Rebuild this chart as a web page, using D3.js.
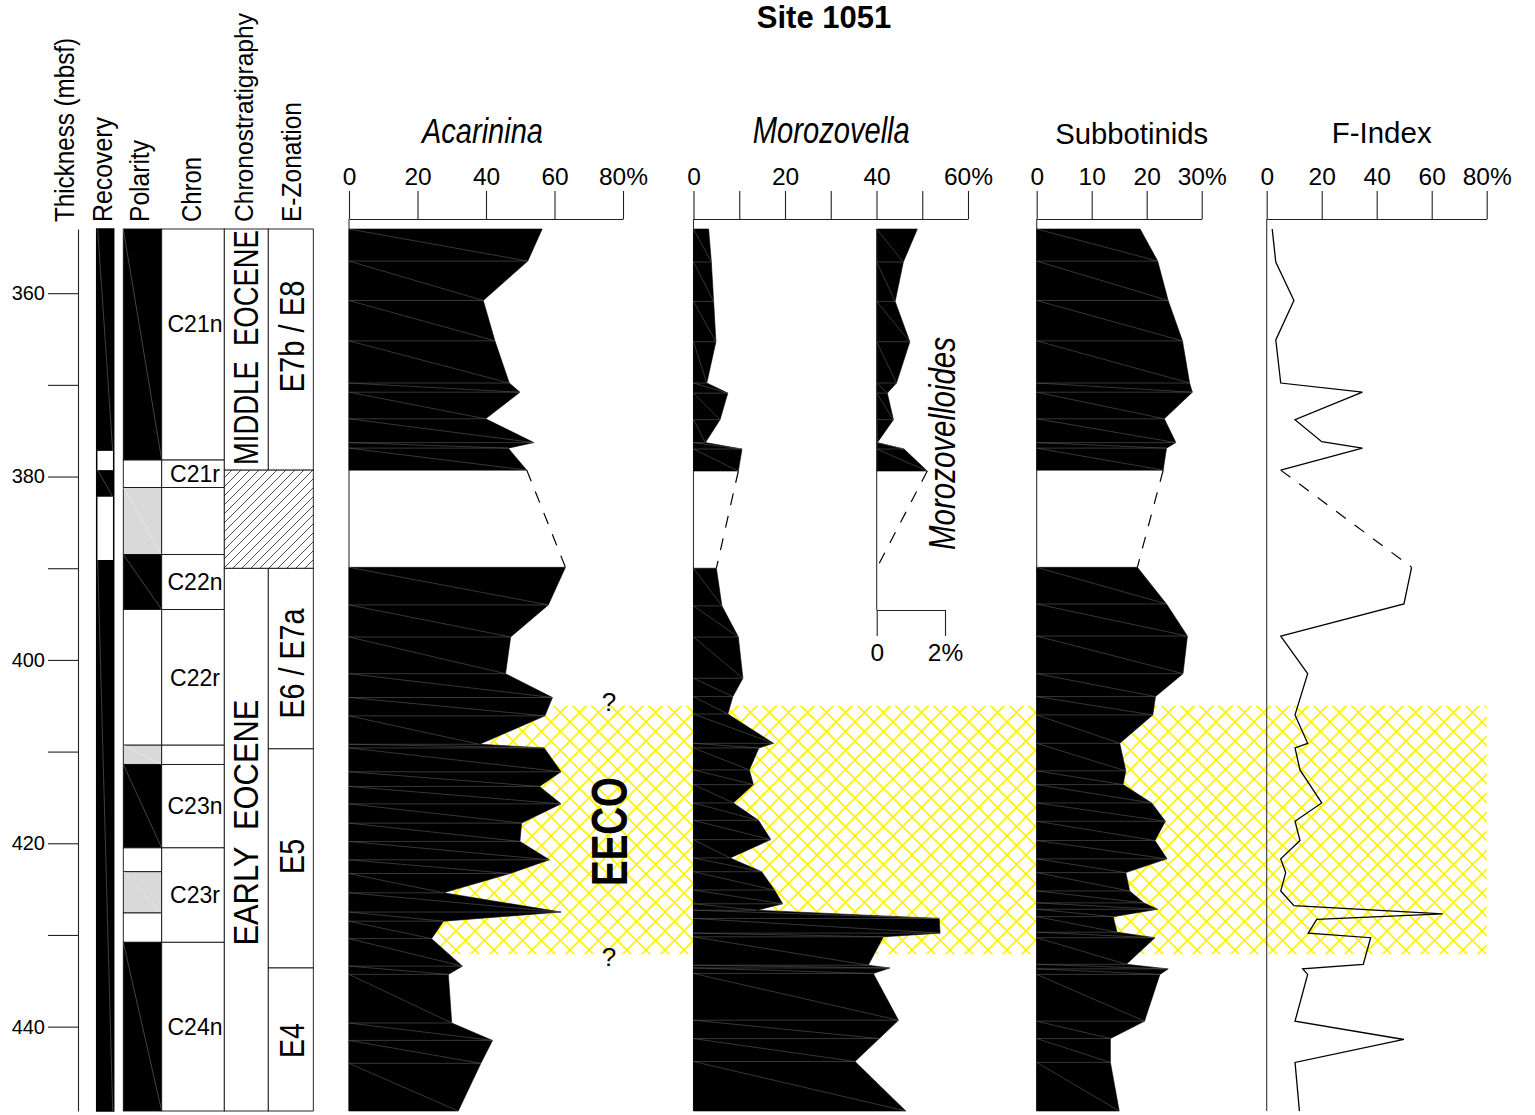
<!DOCTYPE html>
<html>
<head>
<meta charset="utf-8">
<script src="https://cdn.jsdelivr.net/npm/d3@7"></script>
<style>
  html, body { margin: 0; padding: 0; background: #fff; }
  svg { display: block; }
</style>
</head>
<body>
<svg id="chart" width="1535" height="1115"></svg>
<script>
// ---------------- data (depths in mbsf, abundances in %) ----------------
const depthTop = 353.0, depthBase = 449.2;
const depthTicks = [360, 370, 380, 390, 400, 410, 420, 430, 440];
const coreGap = [379.3, 389.9];          // unsampled interval between the two cored blocks
const eecoInterval = [405.0, 432.1];     // Early Eocene Climatic Optimum

const recoveredTop  = [353.0, 379.3, 389.1];
const recoveredBase = [377.2, 382.2, 449.2];

const polarityTop   = [353.0, 378.2, 381.2, 388.5, 394.5, 409.3, 411.4, 420.5, 423.1, 427.6, 430.8];
const polarityBase  = [378.2, 381.2, 388.5, 394.5, 409.3, 411.4, 420.5, 423.1, 427.6, 430.8, 449.2];
const polarityState = ["N", "R", "?", "N", "R", "?", "N", "R", "?", "R", "N"];

const chronNames = ["C21n", "C21r", "", "C22n", "C22r", "", "C23n", "C23r", "C24n"];
const chronTop   = [353.0, 378.2, 381.2, 388.5, 394.5, 409.3, 411.4, 420.5, 430.8];
const chronBase  = [378.2, 381.2, 388.5, 394.5, 409.3, 411.4, 420.5, 430.8, 449.2];

const epochNames = ["MIDDLE  EOCENE", "EARLY  EOCENE"];
const epochTop   = [353.0, 390.0];
const epochBase  = [379.3, 449.2];

const zoneNames = ["E7b / E8", "E6 / E7a", "E5", "E4"];
const zoneTop   = [353.0, 390.0, 409.7, 433.6];
const zoneBase  = [379.3, 409.7, 433.6, 449.2];

const undefinedInterval = [379.3, 390.0];

const acarininaDepth = [353.0, 356.5, 360.8, 365.2, 369.8, 370.8, 373.7, 376.3, 376.9, 379.3,
  389.9, 394.0, 397.5, 401.5, 404.1, 406.1, 409.2, 409.6, 412.2, 413.8, 415.7, 417.8, 419.8,
  421.8, 423.3, 425.4, 427.5, 428.5, 430.4, 433.4, 434.3, 439.6, 441.5, 444.0, 449.2];
const acarininaPct = [56.4, 52.2, 39.2, 42.6, 46.8, 49.9, 39.9, 54.0, 46.5, 51.9,
  63.2, 58.2, 47.2, 45.7, 59.4, 57.2, 38.1, 57.0, 61.9, 55.6, 61.9, 50.4, 49.9,
  58.5, 47.0, 27.6, 61.9, 27.6, 24.1, 33.1, 29.0, 30.0, 41.9, 38.5, 31.9];

const morozovellaDepth = [353.0, 356.6, 360.9, 365.3, 369.8, 370.9, 373.8, 376.3, 377.0, 379.4,
  390.0, 394.1, 397.5, 402.0, 404.0, 405.9, 409.1, 409.6, 412.0, 413.6, 415.6, 417.5, 419.6,
  421.6, 423.1, 425.1, 426.6, 427.3, 428.2, 429.8, 430.2, 433.3, 433.6, 434.2, 439.3, 441.3,
  443.8, 449.2];
const morozovellaPct = [3.3, 3.9, 4.4, 4.9, 2.9, 7.5, 5.8, 2.6, 10.6, 9.8,
  5.0, 6.2, 9.8, 10.8, 8.6, 7.5, 17.5, 14.3, 12.2, 13.1, 8.7, 14.2, 16.9,
  8.0, 14.9, 17.7, 19.5, 13.8, 53.7, 53.9, 41.5, 38.2, 42.9, 39.3, 44.8, 40.6,
  35.3, 46.4];

const morozovelloidesDepth = [353.0, 356.6, 360.9, 365.3, 369.8, 370.9, 373.8, 376.3, 377.0, 379.4, 390.0];
const morozovelloidesPct   = [1.19, 0.78, 0.54, 0.97, 0.58, 0.31, 0.49, 0.02, 0.80, 1.48, 0];

const subbotinidsDepth = [353.0, 356.5, 360.8, 365.2, 369.8, 370.8, 373.7, 376.3, 376.9, 379.3,
  389.9, 393.9, 397.4, 401.5, 404.0, 406.0, 409.1, 412.1, 413.6, 415.6, 417.6, 419.7, 421.7,
  423.2, 425.2, 426.5, 427.2, 428.0, 429.7, 430.3, 433.2, 433.7, 434.3, 439.4, 441.3, 443.9, 449.2];
const subbotinidsPct = [18.8, 22.0, 23.9, 26.5, 27.8, 28.3, 23.2, 25.3, 23.6, 23.0,
  18.3, 23.6, 27.4, 26.6, 21.6, 21.1, 15.1, 16.2, 15.7, 20.9, 23.4, 21.5, 23.7,
  16.2, 16.9, 19.5, 22.0, 13.9, 14.6, 21.5, 16.3, 23.9, 22.4, 19.6, 13.4, 13.4, 15.0];

const fIndexDepth = [353.0, 356.6, 360.8, 365.1, 369.8, 370.8, 373.8, 376.2, 376.9, 379.3,
  389.9, 393.9, 397.4, 401.5, 406.0, 409.1, 409.6, 412.0, 415.6, 417.6, 419.7, 421.7, 423.2,
  425.2, 426.8, 427.7, 428.3, 429.8, 430.3, 433.2, 433.7, 434.3, 439.4, 441.4, 443.9, 449.2];
const fIndexPct = [2.0, 3.3, 9.9, 3.3, 5.1, 34.8, 10.3, 20.0, 34.8, 5.1,
  52.7, 49.9, 5.1, 14.9, 10.3, 14.9, 10.3, 12.1, 20.0, 10.3, 12.1, 5.1, 6.9,
  5.1, 9.9, 64.0, 18.2, 15.1, 37.8, 35.1, 13.1, 14.9, 10.3, 49.9, 10.3, 11.9];

const acarininaTicks = [0, 20, 40, 60, 80];
const morozovellaTicks = [0, 10, 20, 30, 40, 50, 60];
const morozovellaLabelled = [0, 20, 40, 60];
const morozovelloidesTicks = [0, 2];
const subbotinidsTicks = [0, 10, 20, 30];
const fIndexTicks = [0, 20, 40, 60, 80];

// ---------------- layout ----------------
const FONT = '"Liberation Sans", Arial, Helvetica, sans-serif';
const TICK_FONT = 24.5;
const svg = d3.select("#chart");
const y = d3.scaleLinear().domain([depthTop, depthBase]).range([229, 1111]);

const xAcarinina = d3.scaleLinear().domain([0, 80]).range([349, 623]);
const xMorozovella = d3.scaleLinear().domain([0, 60]).range([693.5, 968]);
const xMorozovelloides = d3.scaleLinear().domain([0, 2]).range([876.7, 945]);
const xSubbotinids = d3.scaleLinear().domain([0, 30]).range([1036.7, 1201.7]);
const xFIndex = d3.scaleLinear().domain([0, 80]).range([1266.7, 1486.7]);

const col = {
  recovery: [96.7, 113.7],
  polarity: [123.3, 161.7],
  chron: [161.7, 224.3],
  epoch: [224.3, 268.3],
  zone: [268.3, 313.3]
};

const pct = v => v + "%";
const lastTickPct = ticks => d => d === ticks[ticks.length - 1] ? pct(d) : String(d);

// ---------------- patterns ----------------
const defs = svg.append("defs");
const s = 19;
const eco = defs.append("pattern").attr("id", "eecoHatch")
  .attr("patternUnits", "userSpaceOnUse").attr("width", s).attr("height", s);
eco.append("path")
  .attr("d", `M-2,2L2,-2M0,${s}L${s},0M${s-2},${s+2}L${s+2},${s-2}` +
             `M-2,${s-2}L2,${s+2}M0,0L${s},${s}M${s-2},-2L${s+2},2`)
  .attr("stroke", "#fff200").attr("stroke-width", 1.6).attr("fill", "none");

const h = 9;
const gapHatch = defs.append("pattern").attr("id", "gapHatch")
  .attr("patternUnits", "userSpaceOnUse").attr("width", h).attr("height", h);
gapHatch.append("rect").attr("width", h).attr("height", h).attr("fill", "#fff");
gapHatch.append("path")
  .attr("d", `M-1,1L1,-1M0,${h}L${h},0M${h-1},${h+1}L${h+1},${h-1}`)
  .attr("stroke", "#222").attr("stroke-width", 0.8);

// ---------------- title ----------------
svg.append("text").attr("x", 824).attr("y", 28)
  .attr("text-anchor", "middle").attr("font-family", FONT)
  .attr("font-size", 31).attr("font-weight", "bold").text("Site 1051");

// ---------------- helpers ----------------
function rotText(txt, x, yc, size, len, anchor, extra) {
  const t = svg.append("text")
    .attr("transform", `translate(${x},${yc}) rotate(-90)`)
    .attr("text-anchor", anchor).attr("font-family", FONT)
    .attr("font-size", size)
    .attr("textLength", len).attr("lengthAdjust", "spacingAndGlyphs")
    .text(txt);
  if (extra) extra(t);
  return t;
}
function hText(txt, x, yb, size, len, extra) {
  const t = svg.append("text").attr("x", x).attr("y", yb)
    .attr("text-anchor", "middle").attr("font-family", FONT)
    .attr("font-size", size).text(txt);
  if (len) t.attr("textLength", len).attr("lengthAdjust", "spacingAndGlyphs");
  if (extra) extra(t);
  return t;
}

// ---------------- column headers ----------------
rotText("Thickness (mbsf)", 74, 222, 27, 184, "start");
rotText("Recovery", 112, 222, 27, 105, "start");
rotText("Polarity", 149, 222, 27, 82, "start");
rotText("Chron", 201, 222, 27, 65, "start");
rotText("Chronostratigraphy", 253, 222, 25, 209, "start");
rotText("E-Zonation", 301, 222, 27, 120, "start");

// ---------------- depth axis ----------------
const gDepth = svg.append("g").attr("transform", "translate(78,0)")
  .call(d3.axisLeft(y).tickValues(depthTicks).tickSize(30).tickSizeOuter(0)
    .tickPadding(3).tickFormat(d => d % 20 === 0 ? d : ""));
gDepth.select(".domain").attr("stroke", "#222").attr("stroke-width", 1.1);
gDepth.selectAll(".tick line").attr("stroke", "#222").attr("stroke-width", 1.1);
gDepth.selectAll("text").attr("font-family", FONT).attr("font-size", 20).attr("fill", "#000");

// ---------------- recovery ----------------
svg.append("rect").attr("x", col.recovery[0]).attr("y", y(depthTop))
  .attr("width", col.recovery[1] - col.recovery[0]).attr("height", y(depthBase) - y(depthTop))
  .attr("fill", "#fff").attr("stroke", "#000").attr("stroke-width", 1.5);
const recovered = recoveredTop.map((t, i) => ({ top: t, base: recoveredBase[i] }));
svg.append("g").selectAll("rect").data(recovered).join("rect")
  .attr("x", col.recovery[0]).attr("y", d => y(d.top))
  .attr("width", col.recovery[1] - col.recovery[0]).attr("height", d => y(d.base) - y(d.top))
  .attr("fill", "#000");
svg.append("g").selectAll("line").data(recovered).join("line")
  .attr("x1", col.recovery[0] + 1).attr("y1", d => y(d.top))
  .attr("x2", col.recovery[1] - 1).attr("y2", d => y(d.base))
  .attr("stroke", "#6a6a6a").attr("stroke-width", 0.6);

// ---------------- polarity ----------------
const polarityFill = { N: "#000", R: "#fff", "?": "#d9d9d9" };
const polarity = polarityTop.map((t, i) => ({ top: t, base: polarityBase[i], state: polarityState[i] }));
svg.append("g").selectAll("rect").data(polarity).join("rect")
  .attr("x", col.polarity[0]).attr("y", d => y(d.top))
  .attr("width", col.polarity[1] - col.polarity[0]).attr("height", d => y(d.base) - y(d.top))
  .attr("fill", d => polarityFill[d.state]).attr("stroke", "#111").attr("stroke-width", 0.9);
svg.append("g").selectAll("line").data(polarity.filter(d => d.state !== "R")).join("line")
  .attr("x1", col.polarity[0]).attr("y1", d => y(d.top))
  .attr("x2", col.polarity[1]).attr("y2", d => y(d.base))
  .attr("stroke", d => d.state === "N" ? "#707070" : "#eeeeee").attr("stroke-width", 0.6);

// ---------------- chrons ----------------
const chrons = chronNames.map((n, i) => ({ name: n, top: chronTop[i], base: chronBase[i] }));
svg.append("g").selectAll("rect").data(chrons).join("rect")
  .attr("x", col.chron[0]).attr("y", d => y(d.top))
  .attr("width", col.chron[1] - col.chron[0]).attr("height", d => y(d.base) - y(d.top))
  .attr("fill", "#fff").attr("stroke", "#111").attr("stroke-width", 0.9);
svg.append("g").selectAll("text").data(chrons.filter(d => d.name)).join("text")
  .attr("x", (col.chron[0] + col.chron[1]) / 2 + 2)
  .attr("y", d => (y(d.top) + y(d.base)) / 2 + (d.name === "C21n" ? -21 : 0))
  .attr("dy", "0.36em").attr("text-anchor", "middle")
  .attr("font-family", FONT).attr("font-size", 23).text(d => d.name);

// ---------------- epochs and zones ----------------
const epochs = epochNames.map((n, i) => ({ name: n, top: epochTop[i], base: epochBase[i] }));
svg.append("g").selectAll("rect").data(epochs).join("rect")
  .attr("x", col.epoch[0]).attr("y", d => y(d.top))
  .attr("width", col.epoch[1] - col.epoch[0]).attr("height", d => y(d.base) - y(d.top))
  .attr("fill", "#fff").attr("stroke", "#111").attr("stroke-width", 0.9);
const zones = zoneNames.map((n, i) => ({ name: n, top: zoneTop[i], base: zoneBase[i] }));
svg.append("g").selectAll("rect").data(zones).join("rect")
  .attr("x", col.zone[0]).attr("y", d => y(d.top))
  .attr("width", col.zone[1] - col.zone[0]).attr("height", d => y(d.base) - y(d.top))
  .attr("fill", "#fff").attr("stroke", "#111").attr("stroke-width", 0.9);
svg.append("rect").attr("x", col.epoch[0]).attr("y", y(undefinedInterval[0]))
  .attr("width", col.zone[1] - col.epoch[0])
  .attr("height", y(undefinedInterval[1]) - y(undefinedInterval[0]))
  .attr("fill", "url(#gapHatch)").attr("stroke", "#111").attr("stroke-width", 0.9);

const epochLen = { "MIDDLE  EOCENE": 235, "EARLY  EOCENE": 246 };
const epochShift = { "MIDDLE  EOCENE": -2, "EARLY  EOCENE": -17 };
epochs.forEach(d => {
  rotText(d.name, 258, (y(d.top) + y(d.base)) / 2 + epochShift[d.name], 35, epochLen[d.name], "middle",
    t => t.attr("xml:space", "preserve").style("white-space", "pre"));
});
const zoneLen = { "E7b / E8": 112, "E6 / E7a": 110, "E5": 35, "E4": 35 };
const zoneShift = { "E7b / E8": -13, "E6 / E7a": 5, "E5": -2, "E4": 1 };
zones.forEach(d => {
  rotText(d.name, 303.5, (y(d.top) + y(d.base)) / 2 + zoneShift[d.name], 35, zoneLen[d.name], "middle");
});

// ---------------- EECO band ----------------
svg.append("rect").attr("x", xAcarinina(0)).attr("y", y(eecoInterval[0]))
  .attr("width", xFIndex(80) - xAcarinina(0))
  .attr("height", y(eecoInterval[1]) - y(eecoInterval[0]))
  .attr("fill", "url(#eecoHatch)");

// ---------------- abundance panels ----------------
const gapMid = (coreGap[0] + coreGap[1]) / 2;
function toBlocks(depths, values) {
  const pts = depths.map((d, i) => ({ depth: d, value: values[i] }));
  return [pts.filter(p => p.depth < gapMid), pts.filter(p => p.depth > gapMid)];
}

function topAxis(x, ticks, fmt) {
  const g = svg.append("g").attr("transform", "translate(0,219)")
    .call(d3.axisTop(x).tickValues(ticks).tickSize(28).tickSizeOuter(0).tickPadding(6).tickFormat(fmt));
  g.select(".domain").attr("stroke", "#222").attr("stroke-width", 1.1);
  g.selectAll(".tick line").attr("stroke", "#222").attr("stroke-width", 1.1);
  g.selectAll("text").attr("font-family", FONT).attr("font-size", TICK_FONT).attr("fill", "#000");
  svg.append("line").attr("x1", x(0)).attr("x2", x(0)).attr("y1", 219).attr("y2", y(depthBase))
    .attr("stroke", "#333").attr("stroke-width", 1.1);
}

function filledSeries(x, depths, values) {
  const blocks = toBlocks(depths, values);
  const area = d3.area().x0(x(0)).x1(p => x(p.value)).y(p => y(p.depth));
  blocks.forEach(block => {
    if (block.length < 2) return;
    svg.append("path").datum(block).attr("d", area)
      .attr("fill", "#000").attr("stroke", "#000").attr("stroke-width", 0.6);
    const pairs = d3.pairs(block);
    const seams = svg.append("g").attr("stroke", "#5a5a5a").attr("stroke-width", 0.6);
    seams.selectAll("line.h").data(block.slice(1, -1)).join("line").attr("class", "h")
      .attr("x1", x(0)).attr("x2", p => x(p.value))
      .attr("y1", p => y(p.depth)).attr("y2", p => y(p.depth));
    seams.selectAll("line.d").data(pairs).join("line").attr("class", "d")
      .attr("x1", x(0)).attr("y1", ([p]) => y(p.depth))
      .attr("x2", ([, q]) => x(q.value)).attr("y2", ([, q]) => y(q.depth));
  });
  gapLink(x, blocks);
}

function gapLink(x, blocks) {
  const a = blocks[0][blocks[0].length - 1], b = blocks[1][0];
  svg.append("line").attr("x1", x(a.value)).attr("y1", y(a.depth))
    .attr("x2", x(b.value)).attr("y2", y(b.depth))
    .attr("stroke", "#000").attr("stroke-width", 1.2).attr("stroke-dasharray", "12,11");
}

// Acarinina
topAxis(xAcarinina, acarininaTicks, lastTickPct(acarininaTicks));
filledSeries(xAcarinina, acarininaDepth, acarininaPct);
hText("Acarinina", 482.5, 143, 35, 121, t => t.attr("font-style", "italic"));

// Morozovella
topAxis(xMorozovella, morozovellaTicks,
  d => morozovellaLabelled.includes(d) ? (d === 60 ? pct(d) : String(d)) : "");
filledSeries(xMorozovella, morozovellaDepth, morozovellaPct);
hText("Morozovella", 831.3, 142.5, 37, 157, t => t.attr("font-style", "italic"));

// Morozovelloides (own 0-2% scale)
filledSeries(xMorozovelloides, morozovelloidesDepth, morozovelloidesPct);
const gMini = svg.append("g").attr("transform", "translate(0,610)")
  .call(d3.axisBottom(xMorozovelloides).tickValues(morozovelloidesTicks).tickSize(26)
    .tickSizeOuter(0).tickPadding(8).tickFormat(lastTickPct(morozovelloidesTicks)));
gMini.select(".domain").attr("stroke", "#222").attr("stroke-width", 1.1);
gMini.selectAll(".tick line").attr("stroke", "#222").attr("stroke-width", 1.1);
gMini.selectAll("text").attr("font-family", FONT).attr("font-size", TICK_FONT).attr("fill", "#000");
svg.append("line").attr("x1", xMorozovelloides(0)).attr("x2", xMorozovelloides(0))
  .attr("y1", y(depthTop)).attr("y2", 610).attr("stroke", "#333").attr("stroke-width", 1.1);
rotText("Morozovelloides", 955, 443.5, 36, 213, "middle", t => t.attr("font-style", "italic"));

// Subbotinids
topAxis(xSubbotinids, subbotinidsTicks, lastTickPct(subbotinidsTicks));
filledSeries(xSubbotinids, subbotinidsDepth, subbotinidsPct);
hText("Subbotinids", 1131.7, 144, 29, 153);

// F-Index
topAxis(xFIndex, fIndexTicks, lastTickPct(fIndexTicks));
const fBlocks = toBlocks(fIndexDepth, fIndexPct);
const fLine = d3.line().x(p => xFIndex(p.value)).y(p => y(p.depth));
fBlocks.forEach(block => {
  svg.append("path").datum(block).attr("d", fLine)
    .attr("fill", "none").attr("stroke", "#000").attr("stroke-width", 1.3)
    .attr("stroke-linejoin", "miter");
});
gapLink(xFIndex, fBlocks);
hText("F-Index", 1381.7, 143, 29, 100);

// ---------------- EECO annotation ----------------
rotText("EECO", 627, 831.5, 50, 109, "middle", t => t.attr("font-weight", "bold"));
hText("?", 609, 711, 26);
hText("?", 609, 966, 26);
</script>
</body>
</html>
